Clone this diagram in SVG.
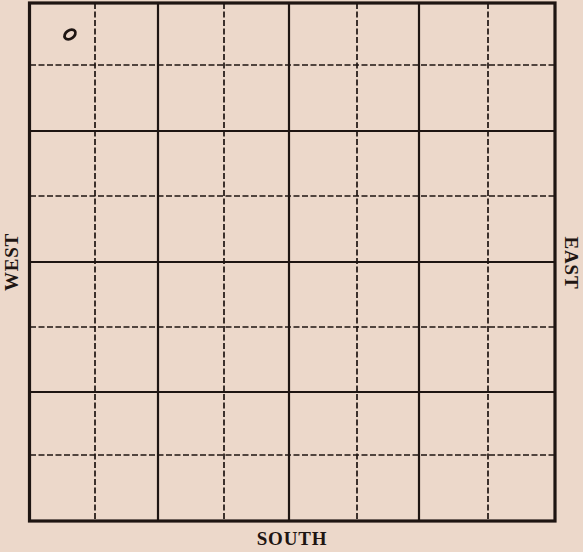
<svg xmlns="http://www.w3.org/2000/svg" width="583" height="552" viewBox="0 0 583 552">
  <style>
    .solid { stroke: #1e1512; stroke-width: 2.2; fill: none; }
    .dash { stroke: #1e1512; stroke-width: 1.7; stroke-dasharray: 6 2.5; fill: none; }
    .outer { stroke: #1e1512; stroke-width: 3.2; fill: none; }
    .lbl { font-family: "Liberation Serif", "DejaVu Serif", serif; font-size: 19px; font-weight: bold; fill: #1e1512; letter-spacing: 0.8px; text-anchor: middle; }
  </style>
  <rect x="0" y="0" width="583" height="552" fill="#ecd8ca"/>
  <g id="grid">
    <g id="dashed-lines">
      <line class="dash" x1="95" y1="3" x2="95" y2="520"/>
      <line class="dash" x1="224" y1="3" x2="224" y2="520"/>
      <line class="dash" x1="357" y1="3" x2="357" y2="520"/>
      <line class="dash" x1="488" y1="3" x2="488" y2="520"/>
      <line class="dash" x1="30" y1="65" x2="555" y2="65"/>
      <line class="dash" x1="30" y1="196" x2="555" y2="196"/>
      <line class="dash" x1="30" y1="327" x2="555" y2="327"/>
      <line class="dash" x1="30" y1="455" x2="555" y2="455"/>
    </g>
    <g id="solid-lines">
      <line class="solid" x1="158" y1="3" x2="158" y2="520"/>
      <line class="solid" x1="289" y1="3" x2="289" y2="520"/>
      <line class="solid" x1="419" y1="3" x2="419" y2="520"/>
      <line class="solid" x1="30" y1="131" x2="555" y2="131"/>
      <line class="solid" x1="30" y1="262" x2="555" y2="262"/>
      <line class="solid" x1="30" y1="392" x2="555" y2="392"/>
    </g>
    <rect id="border" class="outer" x="29.5" y="3" width="525.5" height="518"/>
  </g>
  <g id="marker">
    <ellipse cx="70" cy="34.5" rx="6" ry="4.2" transform="rotate(-35 70 34.5)" fill="none" stroke="#1e1512" stroke-width="2.8"/>
  </g>
  <g id="labels">
    <text class="lbl" x="292" y="545">SOUTH</text>
    <text class="lbl" transform="translate(18 262) rotate(-90)">WEST</text>
    <text class="lbl" transform="translate(565 263) rotate(90)">EAST</text>
  </g>
</svg>
